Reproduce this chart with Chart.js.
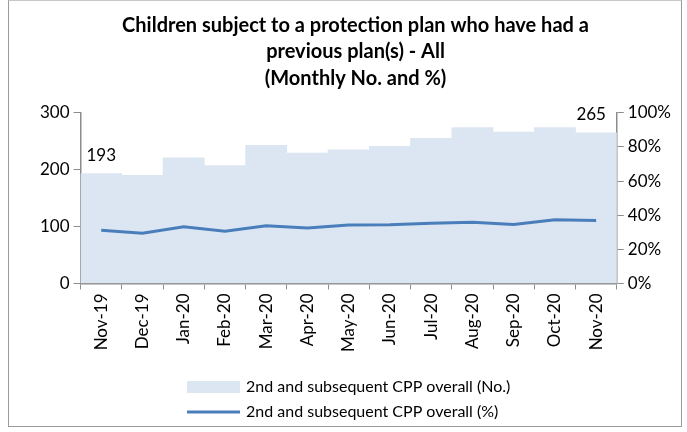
<!DOCTYPE html>
<html>
<head>
<meta charset="utf-8">
<script src="https://cdn.jsdelivr.net/npm/chart.js@4"></script>
<style>
  html, body { margin: 0; padding: 0; background: #fff; }
  #wrap { position: relative; width: 687px; height: 432px; }
  #frame { position: absolute; left: 8px; top: 0; width: 674px; height: 427px; border: 1px solid #9a9a9a; border-top-color: #c8c8c8; box-sizing: border-box; pointer-events: none; }
</style>
</head>
<body>
<div id="wrap">
  <canvas id="cppChart" width="687" height="432"></canvas>
  <div id="frame"></div>
</div>
<script>
const months = ['Nov-19', 'Dec-19', 'Jan-20', 'Feb-20', 'Mar-20', 'Apr-20', 'May-20',
  'Jun-20', 'Jul-20', 'Aug-20', 'Sep-20', 'Oct-20', 'Nov-20'];

// 2nd and subsequent CPP overall (No.)
const cppNumbers = [193, 190, 221, 207, 243, 229, 235, 241, 255, 274, 266, 274, 265];

// 2nd and subsequent CPP overall (%)
const cppPercent = [31.2, 29.4, 33.2, 30.6, 33.8, 32.5, 34.2, 34.4, 35.2, 35.9, 34.6, 37.3, 36.9];

const leftTicks = [0, 100, 200, 300];
const rightTicks = [0, 20, 40, 60, 80, 100];

const titleLines = ['Children subject to a protection plan who have had a',
  'previous plan(s) - All', '(Monthly No. and %)'];
const legendNames = ['2nd and subsequent CPP overall (No.)', '2nd and subsequent CPP overall (%)'];

const areaColour = '#dce6f2';
const lineColour = '#4a7ebb';
const axisColour = '#8c8c8c';
const fontFamily = 'Lato, "DejaVu Sans", sans-serif';

// labels on first and last bar only
const endLabels = {
  id: 'endLabels',
  afterDatasetsDraw(chart) {
    const ctx = chart.ctx;
    const meta = chart.getDatasetMeta(1);
    ctx.save();
    ctx.font = '17px ' + fontFamily;
    ctx.fillStyle = '#000';
    ctx.textAlign = 'center';
    ctx.textBaseline = 'bottom';
    const last = cppNumbers.length - 1;
    ctx.fillText(String(cppNumbers[0]), meta.data[0].x, meta.data[0].y - 10);
    ctx.fillText(String(cppNumbers[last]), meta.data[last].x - 5, meta.data[last].y - 10);
    ctx.restore();
  }
};

// legend drawn as two rows below the axis labels
const rowLegend = {
  id: 'rowLegend',
  afterDraw(chart) {
    const ctx = chart.ctx;
    const x0 = 187, w = 53;
    ctx.save();
    ctx.font = '16px ' + fontFamily;
    ctx.textBaseline = 'middle';
    ctx.fillStyle = areaColour;
    ctx.fillRect(x0, 381, w, 12);
    ctx.fillStyle = '#000';
    ctx.fillText(legendNames[0], x0 + w + 6, 387);
    ctx.strokeStyle = lineColour;
    ctx.lineWidth = 3;
    ctx.beginPath();
    ctx.moveTo(x0, 412);
    ctx.lineTo(x0 + w, 412);
    ctx.stroke();
    ctx.fillText(legendNames[1], x0 + w + 6, 412);
    ctx.restore();
  }
};

const data = {
  labels: months,
  datasets: [{
    type: 'line',
    label: legendNames[1],
    data: cppPercent,
    yAxisID: 'y1',
    borderColor: lineColour,
    borderWidth: 3,
    pointRadius: 0,
    tension: 0,
    order: 0
  }, {
    type: 'bar',
    label: legendNames[0],
    data: cppNumbers,
    yAxisID: 'y',
    backgroundColor: areaColour,
    categoryPercentage: 1.0,
    barPercentage: 1.0,
    order: 1
  }]
};

const config = {
  data: data,
  options: {
    responsive: false,
    animation: false,
    layout: { padding: { left: 36, right: 12, top: 0, bottom: 76 } },
    plugins: {
      legend: { display: false },
      tooltip: { enabled: false },
      title: {
        display: true,
        text: titleLines,
        color: '#000',
        font: { family: fontFamily, size: 20, weight: 'bold', lineHeight: 1.33 },
        padding: { top: 12, bottom: 21 }
      }
    },
    scales: {
      x: {
        offset: true,
        grid: { display: true, drawOnChartArea: false, offset: true, color: axisColour, tickLength: 6 },
        border: { color: axisColour, width: 1.5 },
        ticks: { color: '#000', font: { family: fontFamily, size: 17 }, minRotation: 90, maxRotation: 90, padding: 4 }
      },
      y: {
        position: 'left',
        min: 0,
        max: 300,
        afterBuildTicks: axis => { axis.ticks = leftTicks.map(v => ({ value: v })); },
        grid: { display: true, drawOnChartArea: false, color: axisColour, tickLength: 7 },
        border: { color: axisColour, width: 1.5 },
        ticks: { color: '#000', font: { family: fontFamily, size: 17 }, padding: 4 }
      },
      y1: {
        position: 'right',
        min: 0,
        max: 100,
        afterBuildTicks: axis => { axis.ticks = rightTicks.map(v => ({ value: v })); },
        grid: { display: true, drawOnChartArea: false, color: axisColour, tickLength: 7 },
        border: { color: axisColour, width: 1.5 },
        ticks: { color: '#000', font: { family: fontFamily, size: 17 }, padding: 4, callback: v => v + '%' }
      }
    }
  },
  plugins: [endLabels, rowLegend]
};

const cppChart = new Chart(document.getElementById('cppChart'), config);
</script>
</body>
</html>
